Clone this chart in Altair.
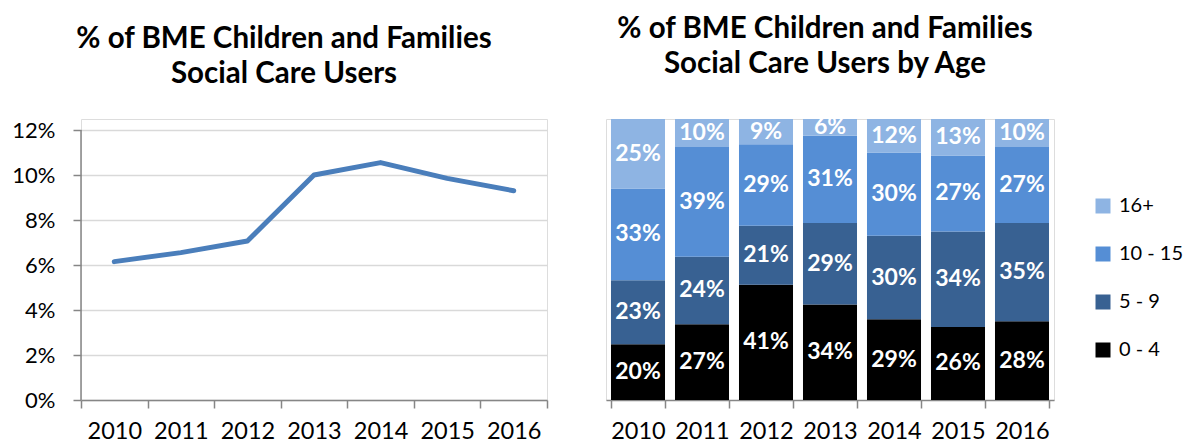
import altair as alt
import pandas as pd

years = ["2010", "2011", "2012", "2013", "2014", "2015", "2016"]
pct_bme = [6.15, 6.55, 7.07, 10.0, 10.55, 9.85, 9.3]

age_groups = ["0 - 4", "5 - 9", "10 - 15", "16+"]
age_0_4 = [20, 27, 41, 34, 29, 26, 28]
age_5_9 = [23, 24, 21, 29, 30, 34, 35]
age_10_15 = [33, 39, 29, 31, 30, 27, 27]
age_16p = [25, 10, 9, 6, 12, 13, 10]

legend_order = ["16+", "10 - 15", "5 - 9", "0 - 4"]
legend_colors = ["#8EB4E3", "#558ED5", "#386192", "#000000"]

FONT = "Lato"
AXIS_GRAY = "#868686"

# ---------- left: line chart ----------
df_line = pd.DataFrame({"year": years, "pct": [v / 100 for v in pct_bme]})
df_axis = pd.DataFrame({"pct": [0.0], "pct2": [0.12]})

ymax = 0.12 * 281 / 270
yscale = alt.Scale(domain=[0, ymax], nice=False, zero=True)
xscale_l = alt.Scale(type="band", paddingInner=0, paddingOuter=0)

x_axis_l = alt.Axis(title=None, labelAngle=0, tickBand="extent", domainColor=AXIS_GRAY,
                    domainWidth=1.5, tickColor=AXIS_GRAY, tickWidth=1.5, tickSize=8,
                    labelFont=FONT, labelFontSize=23.5, labelColor="black", labelPadding=11,
                    grid=False)
y_axis_l = alt.Axis(title=None, values=[0, 0.02, 0.04, 0.06, 0.08, 0.10, 0.12], format=".0%",
                    grid=True, gridColor="#D9D9D9", gridWidth=1.5, domain=False,
                    tickColor=AXIS_GRAY, tickWidth=1.5, tickSize=8, labelPadding=18,
                    labelFont=FONT, labelFontSize=22, labelColor="black")

line = alt.Chart(df_line).mark_line(color="#4A7EBB", strokeWidth=5, strokeCap="round",
                                    strokeJoin="round").encode(
    x=alt.X("year:O", scale=xscale_l, axis=x_axis_l),
    y=alt.Y("pct:Q", scale=yscale, axis=y_axis_l),
)
yline = alt.Chart(df_axis).mark_rule(color=AXIS_GRAY, strokeWidth=1.5).encode(
    x=alt.value(0),
    y=alt.Y("pct:Q", scale=yscale, axis=y_axis_l),
    y2="pct2:Q",
)

left = alt.layer(yline, line).properties(
    width=466, height=281,
    title=alt.TitleParams(
        text=["% of BME Children and Families", "Social Care Users"],
        font=FONT, fontSize=29.5, fontWeight="bold", color="black",
        anchor="middle", dx=-30, offset=30, lineHeight=35,
    ),
)

# ---------- right: stacked 100% bars ----------
rows = []
for i, y in enumerate(years):
    for j, (g, vals) in enumerate(zip(age_groups, [age_0_4, age_5_9, age_10_15, age_16p])):
        rows.append({"year": y, "age": g, "idx": j, "value": vals[i]})
df_bar = pd.DataFrame(rows)

base = alt.Chart(df_bar).transform_stack(
    stack="value", groupby=["year"], sort=[alt.SortField("idx", order="ascending")],
    as_=["v0", "v1"], offset="normalize",
).transform_calculate(
    mid="(datum.v0 + datum.v1) / 2",
    label="datum.value + '%'",
)

xscale_r = alt.Scale(paddingInner=0.156, paddingOuter=0.078)
x_axis_r = alt.Axis(title=None, labelAngle=0, tickBand="extent", domainColor=AXIS_GRAY,
                    domainWidth=1.5, tickColor=AXIS_GRAY, tickWidth=1.5, tickSize=8,
                    labelFont=FONT, labelFontSize=23.5, labelColor="black", labelPadding=11)
yscale_r = alt.Scale(domain=[0, 1], nice=False)

bars = base.mark_bar().encode(
    x=alt.X("year:O", scale=xscale_r, axis=x_axis_r),
    y=alt.Y("v0:Q", scale=yscale_r, axis=None),
    y2="v1:Q",
    color=alt.Color("age:N", scale=alt.Scale(domain=legend_order, range=legend_colors),
                    legend=alt.Legend(title=None, orient="none", legendX=1012, legendY=77,
                                      symbolType="square", symbolSize=225,
                                      symbolStrokeWidth=0, labelFont=FONT, labelFontSize=20,
                                      labelColor="black", rowPadding=28, labelOffset=6,
                                      padding=0)),
)
labels = base.mark_text(color="white", font=FONT, fontWeight="bold", fontSize=23,
                        baseline="middle", align="center").encode(
    x=alt.X("year:O", scale=xscale_r, axis=x_axis_r),
    y=alt.Y("mid:Q", scale=yscale_r, axis=None),
    text="label:N",
)

right = alt.layer(bars, labels).properties(
    width=448, height=281,
    title=alt.TitleParams(
        text=["% of BME Children and Families", "Social Care Users by Age"],
        font=FONT, fontSize=29.5, fontWeight="bold", color="black",
        anchor="middle", dx=-5, offset=37, lineHeight=35,
    ),
)

chart = alt.hconcat(left, right, spacing=59, bounds="flush").properties(
    padding={"left": 3, "top": 5, "right": 0, "bottom": 0}
).configure_view(stroke=None).configure(background="white")

chart.save("out.html", embed_options={"renderer": "svg", "actions": False})
